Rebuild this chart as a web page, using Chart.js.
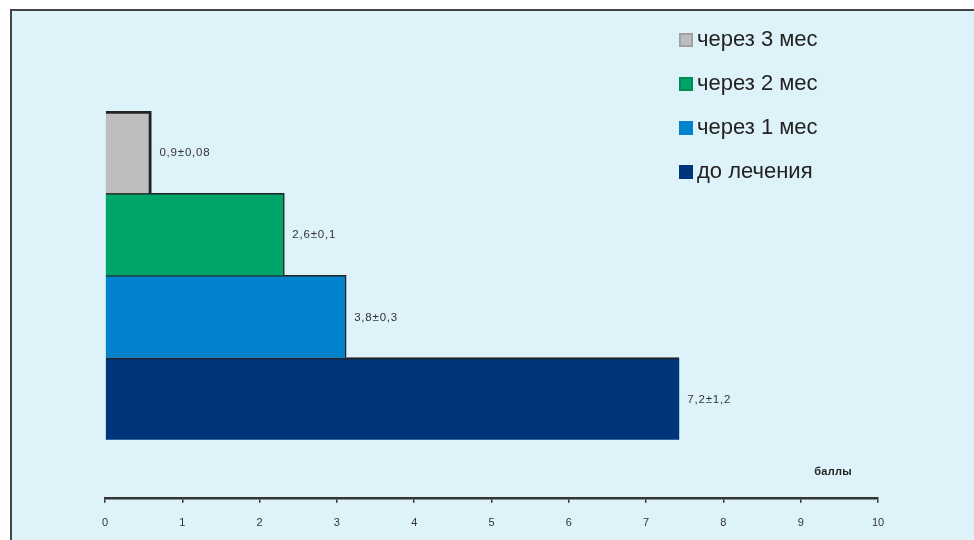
<!DOCTYPE html>
<html>
<head>
<meta charset="utf-8">
<script src="https://cdn.jsdelivr.net/npm/chart.js@4"></script>
<style>
  html, body { margin: 0; padding: 0; background: #fff; }
  body { width: 974px; height: 540px; position: relative; overflow: hidden; font-family: 'Liberation Sans', Arial, sans-serif; }
  #panel { position: absolute; left: 10px; top: 9px; right: 0; bottom: 0; background: #def2fa; border-top: 2px solid #444; border-left: 2px solid #444; }
  #wrap { position: absolute; left: 0; top: 0; width: 974px; height: 560px; }
  #legend { position: absolute; left: 679px; top: 26px; }
  .item { height: 44px; display: flex; align-items: flex-start; font-size: 22px; color: #222; }
  .box { width: 14px; height: 14px; margin-right: 4px; margin-top: 7px; box-sizing: border-box; }
</style>
</head>
<body>
<div id="panel"></div>
<div id="wrap"><canvas id="chart" width="974" height="560"></canvas></div>
<div id="legend"></div>
<script>
const categories = ['до лечения', 'через 1 мес', 'через 2 мес', 'через 3 мес'];
const scores = [7.43, 3.12, 2.32, 0.6];
const valueLabels = ['7,2±1,2', '3,8±0,3', '2,6±0,1', '0,9±0,08'];
const colors = ['#00357a', '#0082cc', '#00a569', '#bebebe'];
const xTickLabels = ['0', '1', '2', '3', '4', '5', '6', '7', '8', '9', '10'];

// legend, top item is the last category
const legend = document.getElementById('legend');
categories.slice().reverse().forEach((name, k) => {
  const i = categories.length - 1 - k;
  const row = document.createElement('div');
  row.className = 'item';
  const box = document.createElement('span');
  box.className = 'box';
  box.style.background = colors[i];
  if (i >= 2) box.style.border = '2px solid rgba(0,0,0,0.15)';
  row.appendChild(box);
  row.appendChild(document.createTextNode(name));
  legend.appendChild(row);
});

const valueText = {
  id: 'valueText',
  afterDatasetsDraw(chart) {
    const ctx = chart.ctx;
    const meta = chart.getDatasetMeta(0);
    ctx.save();
    ctx.font = '11.5px "Liberation Sans", Arial, sans-serif';
    ctx.letterSpacing = '0.8px';
    ctx.fillStyle = '#333';
    ctx.textBaseline = 'middle';
    meta.data.forEach((bar, i) => {
      ctx.fillText(valueLabels[i], bar.x + 8, bar.y + 1);
    });
    // axis caption
    ctx.letterSpacing = '0.3px';
    ctx.font = 'bold 11px "Liberation Sans", Arial, sans-serif';
    ctx.fillStyle = '#222';
    ctx.textAlign = 'center';
    ctx.fillText('баллы', chart.scales.x.getPixelForValue(9.42), chart.chartArea.bottom - 26);
    ctx.restore();
  }
};

new Chart(document.getElementById('chart'), {
  type: 'bar',
  data: {
    datasets: [{
      data: scores.map((v, i) => ({ x: v, y: i })),
      backgroundColor: colors,
      borderColor: '#222',
      borderWidth: ctx => ctx.dataIndex === 3 ? { top: 3, right: 3, left: 0, bottom: 0 }
        : ctx.dataIndex === 0 ? { top: 2, right: 0, left: 0, bottom: 0 }
        : { top: 1.5, right: 1.5, left: 0, bottom: 0 },
      borderSkipped: false,
      categoryPercentage: 1,
      barPercentage: 1
    }]
  },
  plugins: [valueText],
  options: {
    indexAxis: 'y',
    responsive: false,
    animation: false,
    layout: { padding: { left: 105, right: 96, top: 111, bottom: 16 } },
    plugins: { legend: { display: false }, tooltip: { enabled: false } },
    scales: {
      y: {
        type: 'linear', display: false, offset: false, min: -1.205, max: 3.5,
        afterBuildTicks: s => { s.ticks = categories.map((c, i) => ({ value: i })); }
      },
      x: {
        min: 0, max: 10,
        grid: { drawOnChartArea: false, drawTicks: true, tickLength: 5, color: '#333', lineWidth: 1.5 },
        border: { display: true, color: '#333', width: 2.5 },
        ticks: {
          stepSize: 1, padding: 14, color: '#333',
          font: { family: '"Liberation Sans", Arial, sans-serif', size: 11 },
          callback: (v, i) => xTickLabels[i]
        }
      }
    }
  }
});
</script>
</body>
</html>
